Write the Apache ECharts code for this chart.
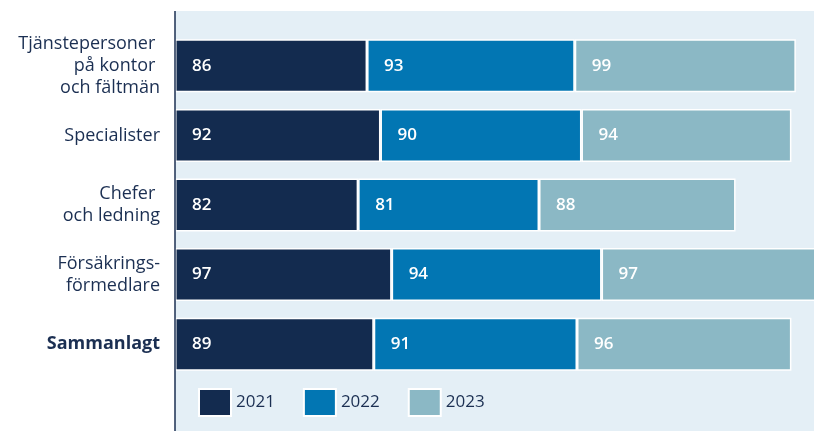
<!DOCTYPE html>
<html>
<head>
<meta charset="utf-8">
<script src="https://cdn.jsdelivr.net/npm/echarts@6/dist/echarts.min.js"></script>
<style>
  html, body { margin: 0; padding: 0; background: #fff; }
  #chart { width: 814px; height: 431px; }
</style>
</head>
<body>
<div id="chart"></div>
<script>
const categories = [
  "Tjänstepersoner \npå kontor \noch fältmän",
  "Specialister",
  "Chefer \noch ledning",
  "Försäkrings-\nförmedlare",
  "Sammanlagt"
];
const years = ["2021", "2022", "2023"];
const values2021 = [86, 92, 82, 97, 89];
const values2022 = [93, 90, 81, 94, 91];
const values2023 = [99, 94, 88, 97, 96];
const colors = ["#132b4f", "#0276b3", "#8bb8c5"];

const navy = "#1b2f52";
const font = "Open Sans";

function barSeries(name, data, color) {
  return {
    type: "bar",
    name: name,
    stack: "total",
    data: data,
    barWidth: 53,
    itemStyle: { color: color, borderColor: "#ffffff", borderWidth: 1.5 },
    label: {
      show: true,
      position: "insideLeft",
      distance: 17,
      color: "#ffffff",
      fontFamily: font,
      fontWeight: 600,
      fontSize: 17
    }
  };
}

const chart = echarts.init(document.getElementById("chart"));
chart.setOption({
  animation: false,
  textStyle: { fontFamily: font },
  graphic: [
    {
      type: "rect",
      z: -10,
      shape: { x: 175, y: 11, width: 639, height: 420 },
      style: { fill: "#e4eff6" }
    },
    {
      type: "line",
      z: 10,
      shape: { x1: 175, y1: 11, x2: 175, y2: 431 },
      style: { stroke: navy, lineWidth: 1.5 }
    }
  ],
  legend: {
    left: 198,
    top: 388,
    padding: 0,
    itemWidth: 32,
    itemHeight: 27,
    itemGap: 28,
    icon: "rect",
    data: years,
    textStyle: { color: navy, fontSize: 17, fontFamily: font }
  },
  grid: {
    left: 175,
    width: 670,
    top: 31,
    height: 348,
    containLabel: false,
    outerBoundsMode: "none"
  },
  xAxis: {
    type: "value",
    min: 0,
    max: 300,
    show: false
  },
  yAxis: {
    type: "category",
    inverse: true,
    data: categories,
    axisLine: { show: false },
    axisTick: { show: false },
    axisLabel: {
      margin: 15,
      color: navy,
      fontSize: 18,
      lineHeight: 22,
      fontFamily: font,
      formatter: function (v) {
        return v === "Sammanlagt" ? "{b|" + v + "}" : v;
      },
      rich: {
        b: { fontWeight: "bold", fontSize: 18, color: navy, fontFamily: font }
      }
    }
  },
  series: [
    barSeries(years[0], values2021, colors[0]),
    barSeries(years[1], values2022, colors[1]),
    barSeries(years[2], values2023, colors[2])
  ]
});
</script>
</body>
</html>
